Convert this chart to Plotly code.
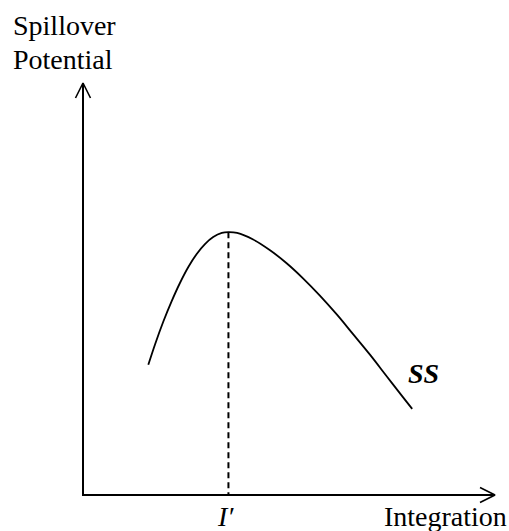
import plotly.graph_objects as go

# Curve SS (integration vs spillover potential), in chart units
curve_x = [1.585, 1.75, 1.95, 2.15, 2.35, 2.56, 2.76, 2.96, 3.16, 3.37, 3.53,
           3.74, 4.13, 4.54, 4.95, 5.34, 5.75, 6.17, 6.55, 6.97, 7.38, 7.77, 7.99]
curve_y = [3.16, 3.66, 4.21, 4.70, 5.14, 5.54, 5.85, 6.09, 6.26, 6.36, 6.38,
           6.36, 6.20, 5.94, 5.62, 5.26, 4.84, 4.37, 3.91, 3.40, 2.87, 2.37, 2.09]
peak_x = 3.53
peak_y = 6.38
axis_max = 10.0

y_title = ["Spillover", "Potential"]
x_title = "Integration"
peak_label = "I′"
curve_label = "SS"

FONT = "Liberation Serif"
W, H = 509, 531
PX = 41.2  # pixels per unit
ox, oy = 83, 495  # origin pixel within figure

xr = [-ox / PX, (W - ox) / PX]
yr = [-(H - oy) / PX, oy / PX]

fig = go.Figure()

# curve
fig.add_trace(go.Scatter(x=curve_x, y=curve_y, mode="lines",
                         line=dict(color="black", width=1.8, shape="spline", smoothing=1.0),
                         hoverinfo="skip", showlegend=False))
# dashed drop line
fig.add_trace(go.Scatter(x=[peak_x, peak_x], y=[peak_y, 0], mode="lines",
                         line=dict(color="black", width=2, dash="6px,4px"),
                         hoverinfo="skip", showlegend=False))

ah_back = 15 / PX
ah_side = 7.5 / PX
# axes
fig.add_trace(go.Scatter(x=[0, 0, axis_max], y=[axis_max, 0, 0], mode="lines",
                         line=dict(color="black", width=2),
                         hoverinfo="skip", showlegend=False))
# arrow heads
fig.add_trace(go.Scatter(x=[-ah_side, 0, ah_side], y=[axis_max - ah_back, axis_max, axis_max - ah_back],
                         mode="lines", line=dict(color="black", width=1.6),
                         hoverinfo="skip", showlegend=False))
fig.add_trace(go.Scatter(x=[axis_max - ah_back, axis_max, axis_max - ah_back], y=[ah_side, 0, -ah_side],
                         mode="lines", line=dict(color="black", width=1.6),
                         hoverinfo="skip", showlegend=False))

f = dict(family=FONT, size=28, color="black")
annotations = [
    dict(x=11 / W, y=1 - 25 / H, xref="paper", yref="paper", text=y_title[0],
         showarrow=False, xanchor="left", yanchor="middle", font=f),
    dict(x=11 / W, y=1 - 60 / H, xref="paper", yref="paper", text=y_title[1],
         showarrow=False, xanchor="left", yanchor="middle", font=f),
    dict(x=509 / W, y=-0.51, xref="paper", yref="y", text=x_title,
         showarrow=False, xanchor="right", yanchor="middle", font=f),
    dict(x=peak_x - 0.06, y=-0.51, xref="x", yref="y", text="<i>" + peak_label + "</i>",
         showarrow=False, xanchor="center", yanchor="middle", font=f),
    dict(x=7.83, y=2.94, xref="x", yref="y", text="<b><i>" + curve_label + "</i></b>",
         showarrow=False, xanchor="left", yanchor="middle", font=f),
]

fig.update_layout(
    width=W, height=H,
    margin=dict(l=0, r=0, t=0, b=0),
    paper_bgcolor="white", plot_bgcolor="white",
    xaxis=dict(range=xr, visible=False, fixedrange=True),
    yaxis=dict(range=yr, visible=False, fixedrange=True),
    annotations=annotations,
    showlegend=False,
)

fig.write_html("out.html",
               config={"displayModeBar": False, "staticPlot": True},
               post_script="document.body.style.margin='0';document.body.style.overflow='hidden';")
